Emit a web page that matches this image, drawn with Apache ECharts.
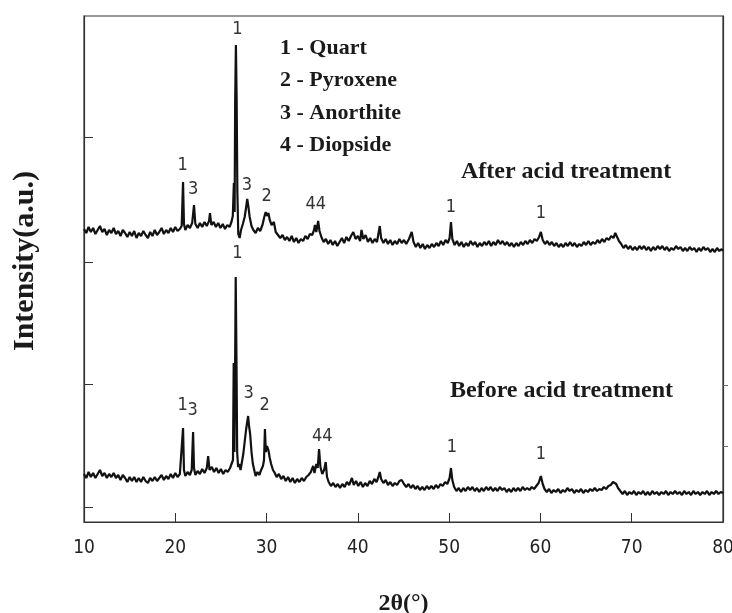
<!DOCTYPE html>
<html>
<head>
<meta charset="utf-8">
<script src="https://cdn.jsdelivr.net/npm/echarts@6.0.0/dist/echarts.min.js"></script>
<style>
    html, body { margin: 0; padding: 0; background: #fff; }
    #xrd_chart { width: 732px; height: 613px; }
</style>
</head>
<body>
<div id="xrd_chart"></div>
<script>
/* 2theta(deg), intensity(a.u.) - after acid treatment */
var afterData = [
    [10.0,293],[10.25,289],[10.5,295],[10.75,290],[11.0,294],[11.25,288],[11.5,292],[11.75,296],[12.0,290],[12.25,293],
    [12.5,287],[12.75,292],[13.0,289],[13.25,294],[13.5,288],[13.75,291],[14.0,286],[14.25,292],[14.5,289],[14.75,285],
    [15.0,290],[15.25,286],[15.5,291],[15.75,284],[16.0,289],[16.25,286],[16.5,291],[16.75,287],[17.0,284],[17.25,290],
    [17.5,286],[17.75,292],[18.0,287],[18.25,290],[18.5,294],[18.75,288],[19.0,292],[19.25,289],[19.5,294],[19.75,290],
    [20.0,295],[20.25,291],[20.5,293],[20.7,296],[20.85,340],[20.95,298],[21.1,292],[21.35,297],[21.6,294],[21.85,299],
    [22.05,317],[22.2,298],[22.45,294],[22.7,299],[22.95,295],[23.2,300],[23.45,296],[23.7,301],[23.8,309],[23.95,297],
    [24.2,300],[24.45,295],[24.7,299],[24.95,294],[25.2,298],[25.45,293],[25.7,297],[25.95,295],[26.15,300],[26.3,306],
    [26.42,339],[26.5,310],[26.56,420],[26.64,477],[26.72,425],[26.8,330],[26.9,288],[27.05,284],[27.2,292],[27.4,298],
    [27.6,305],[27.75,314],[27.88,323],[28.0,316],[28.15,305],[28.35,296],[28.55,292],[28.8,289],[29.05,294],[29.3,291],
    [29.55,297],[29.75,305],[29.9,310],[30.05,306],[30.2,309],[30.35,302],[30.55,297],[30.8,300],[31.0,290],[31.25,287],
    [31.5,284],[31.75,287],[32.0,282],[32.25,285],[32.5,281],[32.75,286],[33.0,280],[33.25,284],[33.5,279],[33.75,283],
    [34.0,281],[34.25,286],[34.5,283],[34.75,288],[35.0,287],[35.2,292],[35.3,297],[35.45,290],[35.65,301],[35.8,291],
    [36.0,285],[36.25,280],[36.5,283],[36.75,278],[37.0,282],[37.25,277],[37.5,281],[37.75,276],[38.0,280],[38.25,284],
    [38.5,279],[38.75,285],[39.0,281],[39.25,286],[39.5,290],[39.75,283],[40.0,286],[40.25,281],[40.4,292],[40.6,283],
    [40.85,287],[41.1,280],[41.35,284],[41.6,279],[41.85,283],[42.1,280],[42.4,296],[42.55,284],[42.8,279],[43.05,283],
    [43.3,278],[43.55,282],[43.8,277],[44.05,281],[44.3,278],[44.55,283],[44.8,279],[45.05,282],[45.3,278],[45.6,283],
    [45.9,290],[46.1,280],[46.35,275],[46.6,279],[46.85,274],[47.1,278],[47.35,273],[47.6,277],[47.85,274],[48.1,278],
    [48.35,275],[48.6,279],[48.85,276],[49.1,281],[49.35,277],[49.6,282],[49.85,279],[50.05,284],[50.2,300],[50.35,283],
    [50.6,277],[50.85,281],[51.1,276],[51.35,280],[51.6,275],[51.85,279],[52.1,276],[52.35,281],[52.6,277],[52.85,280],
    [53.1,275],[53.35,279],[53.6,276],[53.85,280],[54.1,277],[54.35,281],[54.6,276],[54.85,280],[55.1,277],[55.35,282],
    [55.6,278],[55.85,281],[56.1,277],[56.35,280],[56.6,276],[56.85,279],[57.1,275],[57.35,279],[57.6,276],[57.85,280],
    [58.1,277],[58.35,281],[58.6,278],[58.85,282],[59.1,279],[59.35,283],[59.6,281],[59.85,285],[60.05,290],[60.25,282],
    [60.5,278],[60.75,281],[61.0,277],[61.25,280],[61.5,276],[61.75,279],[62.0,275],[62.25,278],[62.5,275],[62.75,279],
    [63.0,276],[63.25,280],[63.5,276],[63.75,279],[64.0,275],[64.25,278],[64.5,276],[64.75,280],[65.0,277],[65.25,281],
    [65.5,277],[65.75,280],[66.0,278],[66.25,282],[66.5,279],[66.75,283],[67.0,280],[67.25,284],[67.5,282],[67.75,286],
    [68.0,284],[68.2,289],[68.4,285],[68.6,281],[68.85,278],[69.1,274],[69.35,277],[69.6,273],[69.85,276],[70.1,272],
    [70.35,275],[70.6,272],[70.85,276],[71.1,273],[71.35,276],[71.6,272],[71.85,275],[72.1,271],[72.35,275],[72.6,272],
    [72.85,276],[73.1,273],[73.35,276],[73.6,272],[73.85,275],[74.1,271],[74.35,274],[74.6,272],[74.85,276],[75.1,273],
    [75.35,275],[75.6,271],[75.85,274],[76.1,271],[76.35,275],[76.6,272],[76.85,274],[77.1,270],[77.35,274],[77.6,271],
    [77.85,275],[78.1,272],[78.35,274],[78.6,270],[78.85,273],[79.1,270],[79.35,274],[79.6,271],[79.85,273],[80.0,271]
];

/* before acid treatment */
var beforeData = [
    [10.0,48],[10.25,44],[10.5,50],[10.75,45],[11.0,49],[11.25,44],[11.5,48],[11.75,52],[12.0,46],[12.25,49],
    [12.5,44],[12.75,48],[13.0,45],[13.25,49],[13.5,44],[13.75,47],[14.0,42],[14.25,47],[14.5,44],[14.75,40],
    [15.0,45],[15.25,41],[15.5,45],[15.75,40],[16.0,44],[16.25,40],[16.5,45],[16.75,41],[17.0,39],[17.25,44],
    [17.5,41],[17.75,45],[18.0,41],[18.25,44],[18.5,47],[18.75,42],[19.0,46],[19.25,43],[19.5,48],[19.75,44],
    [20.0,49],[20.25,45],[20.5,48],[20.7,50],[20.85,94],[20.95,52],[21.1,46],[21.35,50],[21.6,47],[21.8,52],
    [21.95,90],[22.05,54],[22.2,47],[22.45,51],[22.7,48],[22.95,53],[23.2,49],[23.45,54],[23.6,66],[23.75,52],
    [24.0,55],[24.25,50],[24.5,54],[24.75,49],[25.0,53],[25.25,48],[25.5,52],[25.75,50],[26.0,54],[26.2,56],
    [26.32,62],[26.4,159],[26.48,70],[26.56,165],[26.62,245],[26.7,165],[26.78,70],[26.88,55],[27.0,58],[27.15,52],
    [27.3,60],[27.45,68],[27.6,80],[27.75,92],[27.88,100],[27.98,106],[28.08,96],[28.2,88],[28.35,70],[28.5,58],
    [28.65,52],[28.8,46],[29.0,50],[29.2,47],[29.4,52],[29.6,56],[29.72,62],[29.82,93],[29.92,70],[30.05,76],
    [30.2,72],[30.35,64],[30.5,58],[30.7,52],[30.9,49],[31.1,45],[31.35,48],[31.6,43],[31.85,46],[32.1,41],
    [32.35,45],[32.6,40],[32.85,44],[33.1,39],[33.35,43],[33.6,40],[33.85,44],[34.1,41],[34.35,45],[34.6,47],
    [34.85,50],[35.1,56],[35.25,49],[35.45,58],[35.6,54],[35.75,73],[35.9,55],[36.1,48],[36.3,52],[36.48,60],
    [36.62,45],[36.8,40],[37.05,36],[37.3,39],[37.55,35],[37.8,38],[38.05,34],[38.3,38],[38.55,35],[38.8,40],
    [39.05,37],[39.35,44],[39.55,37],[39.8,41],[40.05,36],[40.3,40],[40.55,35],[40.8,39],[41.05,36],[41.3,41],
    [41.55,38],[41.8,43],[42.05,40],[42.25,45],[42.4,50],[42.55,43],[42.8,39],[43.05,42],[43.3,37],[43.55,40],
    [43.8,36],[44.05,39],[44.3,37],[44.55,41],[44.8,42],[45.05,38],[45.3,35],[45.55,38],[45.8,34],[46.05,37],
    [46.3,33],[46.55,36],[46.8,32],[47.05,35],[47.3,32],[47.55,36],[47.8,33],[48.05,36],[48.3,33],[48.55,37],
    [48.8,34],[49.05,38],[49.3,36],[49.55,40],[49.8,38],[50.05,44],[50.2,54],[50.35,42],[50.55,35],[50.8,31],
    [51.05,34],[51.3,30],[51.55,34],[51.8,31],[52.05,35],[52.3,32],[52.55,35],[52.8,31],[53.05,34],[53.3,30],
    [53.55,34],[53.8,31],[54.05,35],[54.3,32],[54.55,35],[54.8,31],[55.05,34],[55.3,31],[55.55,35],[55.8,32],
    [56.05,34],[56.3,30],[56.55,33],[56.8,30],[57.05,34],[57.3,31],[57.55,34],[57.8,31],[58.05,35],[58.3,32],
    [58.55,34],[58.8,32],[59.05,35],[59.3,33],[59.55,36],[59.8,39],[60.05,46],[60.25,38],[60.45,33],[60.7,30],
    [60.95,33],[61.2,29],[61.45,32],[61.7,30],[61.95,33],[62.2,29],[62.45,32],[62.7,30],[62.95,34],[63.2,31],
    [63.45,33],[63.7,29],[63.95,32],[64.2,30],[64.45,33],[64.7,29],[64.95,32],[65.2,30],[65.45,33],[65.7,31],
    [65.95,34],[66.2,31],[66.45,33],[66.7,32],[66.95,35],[67.2,33],[67.45,36],[67.7,37],[67.95,40],[68.1,42],
    [68.3,38],[68.5,34],[68.75,31],[69.0,28],[69.25,31],[69.5,27],[69.75,30],[70.0,28],[70.25,31],[70.5,27],
    [70.75,30],[71.0,28],[71.25,31],[71.5,27],[71.75,30],[72.0,27],[72.25,31],[72.5,28],[72.75,30],[73.0,27],
    [73.25,30],[73.5,28],[73.75,31],[74.0,27],[74.25,30],[74.5,28],[74.75,31],[75.0,28],[75.25,30],[75.5,27],
    [75.75,31],[76.0,28],[76.25,30],[76.5,27],[76.75,31],[77.0,28],[77.25,30],[77.5,27],[77.75,30],[78.0,28],
    [78.25,31],[78.5,27],[78.75,30],[79.0,28],[79.25,31],[79.5,28],[79.75,30],[80.0,29]
];

/* peak labels: [2theta, intensity, text] */
var afterPeakLabels = [
    [20.8, 357, '1'], [21.95, 333, '3'], [26.8, 493, '1'], [27.85, 337, '3'],
    [30.0, 326, '2'], [35.4, 318, '44'], [50.2, 315, '1'], [60.05, 309, '1']
];
var beforePeakLabels = [
    [20.8, 117, '1'], [21.9, 112, '3'], [26.8, 269, '1'], [28.05, 129, '3'],
    [29.8, 117, '2'], [36.1, 86, '44'], [50.3, 75, '1'], [60.05, 68, '1']
];

var phaseList = ['1 - Quart', '2 - Pyroxene', '3 - Anorthite', '4 - Diopside'];
var xTicks = [10, 20, 30, 40, 50, 60, 70, 80];
var leftTicks = [15, 138, 260, 385];
var rightTicks = [76, 137];

var labelFont = "'Liberation Sans Narrow', 'DejaVu Sans Condensed', 'Liberation Sans', sans-serif";
var serifFont = "'Liberation Serif', 'DejaVu Serif', serif";

function toMarkPoints(list) {
    return list.map(function (p) {
        return { coord: [p[0], p[1]], value: p[2] };
    });
}

var xrd_chart = document.getElementById('xrd_chart');
var xrd_myChart = echarts.init(xrd_chart);

var legendText = [];
phaseList.forEach(function (txt, idx) {
    legendText.push({
        type: 'text',
        left: 280,
        top: 37 + idx * 32.5,
        style: {
            text: txt,
            font: 'bold 22px ' + serifFont,
            fill: '#1a1a1a'
        }
    });
});

var peakLabel = {
    show: true,
    position: 'inside',
    formatter: '{c}',
    fontFamily: labelFont,
    fontSize: 18,
    color: '#333'
};

var option = {
    animation: false,
    backgroundColor: '#fff',
    grid: {
        left: 84,
        right: 9,
        top: 16,
        bottom: 91,
        outerBoundsMode: 'none',
        containLabel: false,
        show: true,
        borderColor: '#333',
        borderWidth: 1.2
    },
    xAxis: {
        type: 'value',
        min: 10,
        max: 80,
        interval: 10,
        name: '2θ(°)',
        nameLocation: 'middle',
        nameGap: 70,
        nameTextStyle: {
            fontFamily: serifFont,
            fontWeight: 'bold',
            fontSize: 24,
            color: '#1a1a1a'
        },
        axisLine: { show: true, lineStyle: { color: '#333', width: 1.2 } },
        axisTick: { show: true, inside: true, length: 9, lineStyle: { color: '#333' } },
        axisLabel: {
            margin: 17,
            fontFamily: labelFont,
            fontSize: 19,
            color: '#222',
            formatter: function (v) { return xTicks.indexOf(v) > -1 ? String(v) : ''; }
        },
        splitLine: { show: false }
    },
    yAxis: [
        {
            type: 'value',
            min: 0,
            max: 506,
            axisLine: { show: true, lineStyle: { color: '#333', width: 1.2 } },
            axisTick: {
                show: true,
                inside: true,
                length: 9,
                customValues: leftTicks,
                lineStyle: { color: '#333' }
            },
            axisLabel: { show: false },
            splitLine: { show: false }
        },
        {
            type: 'value',
            position: 'right',
            min: 0,
            max: 506,
            axisLine: { show: true, lineStyle: { color: '#333', width: 1.2 } },
            axisTick: {
                show: true,
                inside: false,
                length: 5,
                customValues: rightTicks,
                lineStyle: { color: '#666' }
            },
            axisLabel: { show: false },
            splitLine: { show: false }
        }
    ],
    graphic: legendText.concat([
        {
            type: 'text',
            x: 25,
            y: 261,
            rotation: Math.PI / 2,
            style: {
                text: 'Intensity(a.u.)',
                font: 'bold 30px ' + serifFont,
                fill: '#1a1a1a',
                textAlign: 'center',
                textVerticalAlign: 'middle'
            }
        },
        {
            type: 'text',
            left: 461,
            top: 160,
            style: { text: 'After acid treatment', font: 'bold 24px ' + serifFont, fill: '#1a1a1a' }
        },
        {
            type: 'text',
            left: 450,
            top: 379,
            style: { text: 'Before acid treatment', font: 'bold 24px ' + serifFont, fill: '#1a1a1a' }
        }
    ]),
    series: [
        {
            name: 'After acid treatment',
            type: 'line',
            data: afterData,
            showSymbol: false,
            lineStyle: { color: '#111', width: 2.2 },
            markPoint: {
                symbol: 'circle',
                symbolSize: 0,
                label: peakLabel,
                data: toMarkPoints(afterPeakLabels)
            }
        },
        {
            name: 'Before acid treatment',
            type: 'line',
            data: beforeData,
            showSymbol: false,
            lineStyle: { color: '#111', width: 2.2 },
            markPoint: {
                symbol: 'circle',
                symbolSize: 0,
                label: peakLabel,
                data: toMarkPoints(beforePeakLabels)
            }
        }
    ]
};

option && xrd_myChart.setOption(option);
</script>
</body>
</html>
